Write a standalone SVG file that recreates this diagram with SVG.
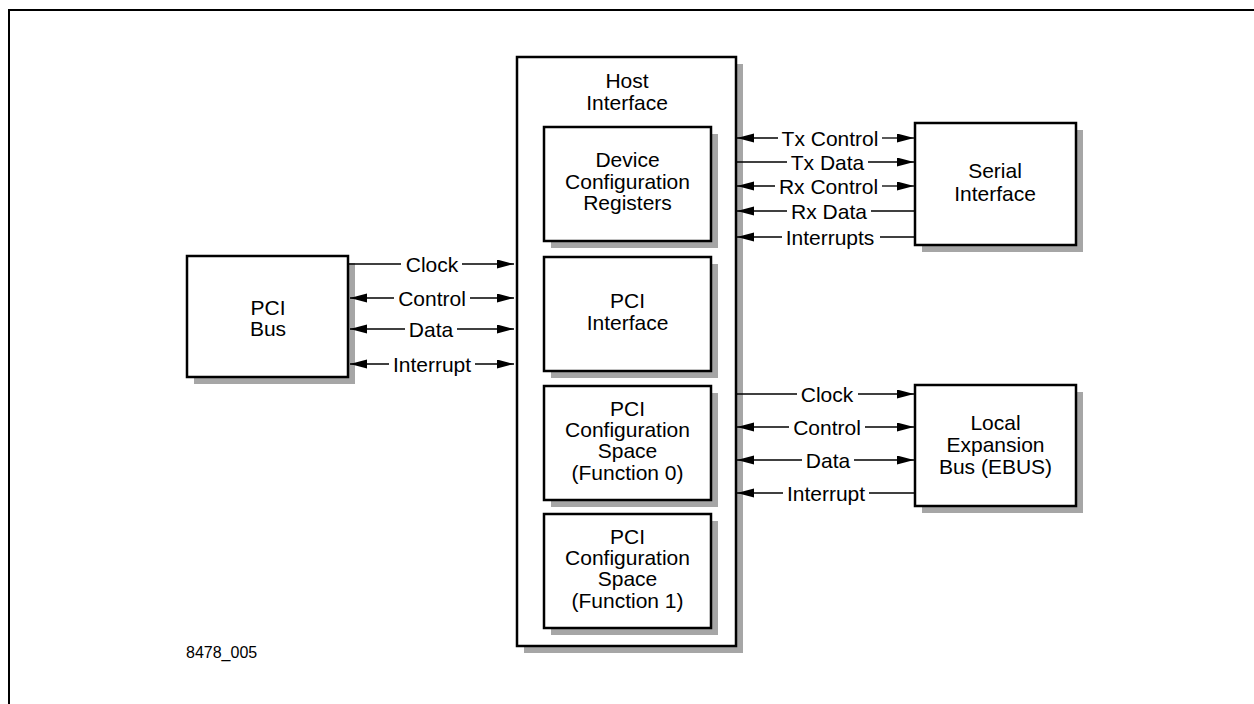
<svg xmlns="http://www.w3.org/2000/svg" width="1254" height="704" viewBox="0 0 1254 704">
<style>
.frame{fill:none;stroke:#000;stroke-width:2}
.box{fill:#fff;stroke:#000;stroke-width:2.5}
.sh{fill:#a6a6a6}
.t{font-family:"Liberation Sans",Arial,Helvetica,sans-serif;font-size:21px;text-anchor:middle;fill:#000}
.s{font-family:"Liberation Sans",Arial,Helvetica,sans-serif;font-size:16px;fill:#000}
.ln{stroke:#000;stroke-width:1.3;fill:none}
.a{marker-end:url(#ah)}
.b{marker-start:url(#ah)}
</style>
<defs>
<marker id="ah" markerUnits="userSpaceOnUse" markerWidth="18" markerHeight="10" refX="17" refY="4.5" orient="auto-start-reverse" viewBox="0 0 18 10">
<path d="M0,0 L17,4.5 L0,9 Z" fill="#000"/>
</marker>
</defs>
<rect width="1254" height="704" fill="#fff"/>
<path class="frame" d="M9,704 V10 H1254"/>

<g id="pci-bus">
<rect class="sh" x="194" y="263" width="161" height="121"/>
<rect class="box" x="187" y="256" width="161" height="121"/>
<text class="t" x="268" y="315">PCI</text>
<text class="t" x="268" y="336">Bus</text>
</g>

<g id="host-interface">
<rect class="sh" x="524" y="64" width="219" height="589"/>
<rect class="box" x="517" y="57" width="219" height="589"/>
<text class="t" x="627" y="88">Host</text>
<text class="t" x="627" y="110">Interface</text>
</g>

<g id="device-config-registers">
<rect class="sh" x="551" y="134" width="167" height="114"/>
<rect class="box" x="544" y="127" width="167" height="114"/>
<text class="t" x="627.5" y="167">Device</text>
<text class="t" x="627.5" y="188.5">Configuration</text>
<text class="t" x="627.5" y="210">Registers</text>
</g>

<g id="pci-interface">
<rect class="sh" x="551" y="264" width="167" height="114"/>
<rect class="box" x="544" y="257" width="167" height="114"/>
<text class="t" x="627.5" y="308">PCI</text>
<text class="t" x="627.5" y="330">Interface</text>
</g>

<g id="pci-config-f0">
<rect class="sh" x="551" y="393" width="167" height="114"/>
<rect class="box" x="544" y="386" width="167" height="114"/>
<text class="t" x="627.5" y="416">PCI</text>
<text class="t" x="627.5" y="437">Configuration</text>
<text class="t" x="627.5" y="458">Space</text>
<text class="t" x="627.5" y="480">(Function 0)</text>
</g>

<g id="pci-config-f1">
<rect class="sh" x="551" y="521" width="167" height="114"/>
<rect class="box" x="544" y="514" width="167" height="114"/>
<text class="t" x="627.5" y="544">PCI</text>
<text class="t" x="627.5" y="565">Configuration</text>
<text class="t" x="627.5" y="586">Space</text>
<text class="t" x="627.5" y="608">(Function 1)</text>
</g>

<g id="serial-interface">
<rect class="sh" x="922" y="130" width="161" height="122"/>
<rect class="box" x="915" y="123" width="161" height="122"/>
<text class="t" x="995" y="178">Serial</text>
<text class="t" x="995" y="201">Interface</text>
</g>

<g id="local-expansion-bus">
<rect class="sh" x="922" y="392" width="161" height="121"/>
<rect class="box" x="915" y="385" width="161" height="121"/>
<text class="t" x="995.5" y="430">Local</text>
<text class="t" x="995.5" y="452">Expansion</text>
<text class="t" x="995.5" y="474">Bus (EBUS)</text>
</g>

<g id="connectors">
<!-- PCI Bus <-> Host -->
<line class="ln" x1="348" y1="264" x2="401" y2="264"/>
<line class="ln a" x1="462" y1="264" x2="514" y2="264"/>
<text class="t" x="432" y="271.5">Clock</text>
<line class="ln b" x1="350" y1="298" x2="394" y2="298"/>
<line class="ln a" x1="470" y1="298" x2="514" y2="298"/>
<text class="t" x="432" y="305.5">Control</text>
<line class="ln b" x1="350" y1="329" x2="405" y2="329"/>
<line class="ln a" x1="457" y1="329" x2="514" y2="329"/>
<text class="t" x="431" y="336.5">Data</text>
<line class="ln b" x1="350" y1="364" x2="389" y2="364"/>
<line class="ln a" x1="475" y1="364" x2="514" y2="364"/>
<text class="t" x="432" y="371.5">Interrupt</text>

<!-- Host <-> Serial Interface -->
<line class="ln b" x1="737" y1="138" x2="778" y2="138"/>
<line class="ln a" x1="882" y1="138" x2="914" y2="138"/>
<text class="t" x="830" y="145.5">Tx Control</text>
<line class="ln" x1="737" y1="162" x2="787" y2="162"/>
<line class="ln a" x1="868" y1="162" x2="914" y2="162"/>
<text class="t" x="827.5" y="169.5">Tx Data</text>
<line class="ln b" x1="737" y1="186" x2="775" y2="186"/>
<line class="ln a" x1="882" y1="186" x2="914" y2="186"/>
<text class="t" x="828.5" y="193.5">Rx Control</text>
<line class="ln b" x1="737" y1="211" x2="787" y2="211"/>
<line class="ln" x1="871" y1="211" x2="915" y2="211"/>
<text class="t" x="829" y="218.5">Rx Data</text>
<line class="ln b" x1="737" y1="237" x2="782" y2="237"/>
<line class="ln" x1="880" y1="237" x2="915" y2="237"/>
<text class="t" x="830" y="244.5">Interrupts</text>

<!-- Host <-> Local Expansion Bus -->
<line class="ln" x1="737" y1="394" x2="797" y2="394"/>
<line class="ln a" x1="858" y1="394" x2="914" y2="394"/>
<text class="t" x="827" y="401.5">Clock</text>
<line class="ln b" x1="737" y1="427" x2="789" y2="427"/>
<line class="ln a" x1="865" y1="427" x2="914" y2="427"/>
<text class="t" x="827" y="434.5">Control</text>
<line class="ln b" x1="737" y1="460" x2="802" y2="460"/>
<line class="ln a" x1="854" y1="460" x2="914" y2="460"/>
<text class="t" x="828" y="467.5">Data</text>
<line class="ln b" x1="737" y1="493" x2="783" y2="493"/>
<line class="ln" x1="869" y1="493" x2="915" y2="493"/>
<text class="t" x="826" y="500.5">Interrupt</text>
</g>

<text class="s" x="186" y="658">8478_005</text>
</svg>
